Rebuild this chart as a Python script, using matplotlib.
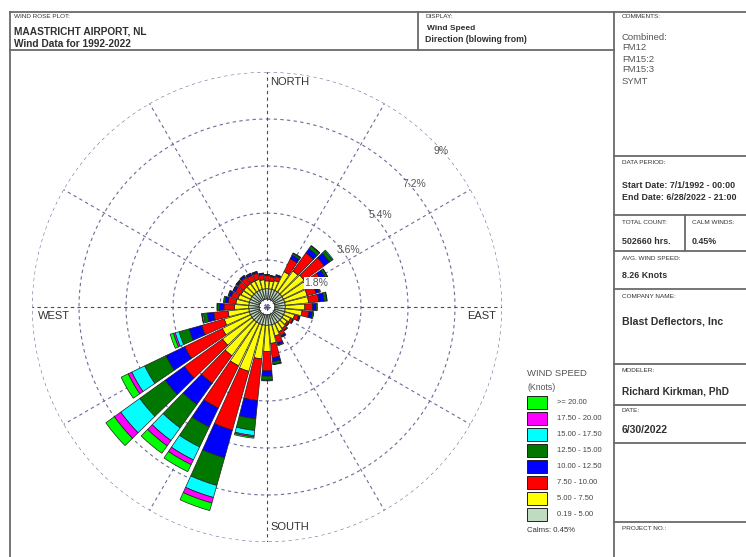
import numpy as np
import matplotlib
matplotlib.use('Agg')
import matplotlib.pyplot as plt
from matplotlib.patches import Rectangle

plt.rcParams['font.family'] = ['Liberation Sans', 'DejaVu Sans']

# wind direction (deg, blowing from)
directions = [10, 20, 30, 40, 50, 60, 70, 80, 90, 100, 110, 120,
              130, 140, 150, 160, 170, 180, 190, 200, 210, 220, 230, 240,
              250, 260, 270, 280, 290, 300, 310, 320, 330, 340, 350, 360]

# frequency (%) of each speed class per direction
spd_019_5 = [0.4, 0.4, 0.4, 0.4, 0.4, 0.4, 0.4, 0.4, 0.4, 0.4, 0.4, 0.4,
             0.4, 0.4, 0.4, 0.4, 0.4, 0.4, 0.4, 0.4, 0.4, 0.4, 0.4, 0.4,
             0.4, 0.4, 0.4, 0.4, 0.4, 0.4, 0.4, 0.4, 0.4, 0.4, 0.4, 0.4]
spd_5_75 = [0.30, 0.35, 0.80, 1.00, 1.05, 1.00, 0.90, 0.90, 0.75, 0.65, 0.40, 0.30,
            0.25, 0.30, 0.35, 0.45, 0.70, 1.00, 1.30, 1.86, 1.80, 1.60, 1.40, 1.20,
            1.00, 0.80, 0.55, 0.50, 0.45, 0.40, 0.40, 0.40, 0.40, 0.40, 0.35, 0.30]
spd_75_10 = [0.17, 0.17, 0.55, 0.85, 0.95, 0.60, 0.35, 0.40, 0.30, 0.27, 0.15, 0.10,
             0.08, 0.10, 0.17, 0.27, 0.55, 0.75, 1.60, 2.34, 1.80, 1.30, 1.80, 1.60,
             0.90, 0.55, 0.40, 0.30, 0.27, 0.25, 0.28, 0.30, 0.25, 0.25, 0.20, 0.20]
spd_10_125 = [0.03, 0.05, 0.15, 0.20, 0.25, 0.20, 0.13, 0.20, 0.13, 0.13, 0.05, 0.03,
              0.02, 0.03, 0.05, 0.08, 0.15, 0.20, 0.70, 1.10, 0.80, 1.00, 0.90, 0.80,
              0.50, 0.25, 0.18, 0.12, 0.10, 0.08, 0.07, 0.07, 0.07, 0.05, 0.05, 0.04]
spd_125_15 = [0.01, 0.02, 0.08, 0.13, 0.13, 0.08, 0.05, 0.10, 0.05, 0.05, 0.02, 0.0,
              0.0, 0.0, 0.02, 0.04, 0.10, 0.15, 0.45, 1.10, 0.85, 1.10, 1.20, 0.90,
              0.40, 0.15, 0.07, 0.06, 0.03, 0.02, 0.02, 0.03, 0.02, 0.02, 0.01, 0.01]
spd_15_175 = [0.0, 0.0, 0.02, 0.02, 0.04, 0.02, 0.0, 0.02, 0.0, 0.0, 0.0, 0.0,
              0.0, 0.0, 0.0, 0.0, 0.02, 0.03, 0.20, 0.48, 0.55, 0.60, 0.90, 0.55,
              0.15, 0.05, 0.02, 0.0, 0.0, 0.0, 0.0, 0.0, 0.0, 0.0, 0.0, 0.0]
spd_175_20 = [0.0, 0.0, 0.0, 0.0, 0.0, 0.0, 0.0, 0.0, 0.0, 0.0, 0.0, 0.0,
              0.0, 0.0, 0.0, 0.0, 0.0, 0.0, 0.05, 0.22, 0.20, 0.25, 0.30, 0.15,
              0.07, 0.0, 0.0, 0.0, 0.0, 0.0, 0.0, 0.0, 0.0, 0.0, 0.0, 0.0]
spd_20_up = [0.0, 0.0, 0.0, 0.0, 0.0, 0.0, 0.0, 0.0, 0.0, 0.0, 0.0, 0.0,
             0.0, 0.0, 0.0, 0.0, 0.0, 0.0, 0.05, 0.30, 0.30, 0.35, 0.40, 0.30,
             0.13, 0.02, 0.0, 0.0, 0.0, 0.0, 0.0, 0.0, 0.0, 0.0, 0.0, 0.0]

speed_labels = ['0.19 - 5.00', '5.00 - 7.50', '7.50 - 10.00', '10.00 - 12.50',
                '12.50 - 15.00', '15.00 - 17.50', '17.50 - 20.00', '>= 20.00']
speed_colors = ['#c0dcc0', '#ffff00', '#ff0000', '#0000ff',
                '#007800', '#00ffff', '#ff00ff', '#00ff00']
ring_values = [1.8, 3.6, 5.4, 7.2, 9.0]
ring_labels = ['1.8%', '3.6%', '5.4%', '7.2%', '9%']
calm_hole = 0.3  # % radius left blank in the middle

W, H = 746, 557
fig = plt.figure(figsize=(W / 100, H / 100), dpi=100)

# page frame (pixel coords)
bg = fig.add_axes([0, 0, 1, 1])
bg.set_xlim(0, W)
bg.set_ylim(H, 0)
bg.axis('off')

fc = '#6a6a6a'
lw = 1.3
bg.plot([10, 10], [12, H], color=fc, lw=lw)
bg.plot([10, W], [12, 12], color=fc, lw=lw)
bg.plot([10, 614], [50, 50], color=fc, lw=lw)
bg.plot([418, 418], [12, 50], color=fc, lw=lw)
bg.plot([614, 614], [12, H], color=fc, lw=lw)
for y in [156, 215, 251, 289, 364, 405, 443, 522]:
    bg.plot([614, W], [y, y], color=fc, lw=lw)
bg.plot([685, 685], [215, 251], color=fc, lw=lw)

small = dict(fontsize=4.6, color='#333333', va='center')
bold = dict(fontweight='bold', color='#303030', va='center')

bg.text(14, 17, 'WIND ROSE PLOT:', **small)
bg.text(14, 31, 'MAASTRICHT AIRPORT, NL', fontsize=7.3, **bold)
bg.text(14, 44, 'Wind Data for 1992-2022', fontsize=7.3, **bold)
bg.text(425, 17, 'DISPLAY:', **small)
bg.text(427, 29, 'Wind Speed', fontsize=6.0, **bold)
bg.text(425, 39, 'Direction (blowing from)', fontsize=6.3, **bold)

bg.text(622, 17, 'COMMENTS:', **small)
for i, s in enumerate(['Combined:', 'FM12', 'FM15:2', 'FM15:3', 'SYMT']):
    bg.text(622, 37 + 11 * i, s, fontsize=6.8, color='#555555', va='center')
bg.text(622, 162, 'DATA PERIOD:', **small)
bg.text(622, 185, 'Start Date: 7/1/1992 - 00:00', fontsize=6.4, **bold)
bg.text(622, 197, 'End Date: 6/28/2022 - 21:00', fontsize=6.4, **bold)
bg.text(622, 222, 'TOTAL COUNT:', **small)
bg.text(692, 222, 'CALM WINDS:', **small)
bg.text(622, 241, '502660 hrs.', fontsize=6.4, **bold)
bg.text(692, 241, '0.45%', fontsize=6.4, **bold)
bg.text(622, 258, 'AVG. WIND SPEED:', **small)
bg.text(622, 276, '8.26 Knots', fontsize=6.4, **bold)
bg.text(622, 297, 'COMPANY NAME:', **small)
bg.text(622, 322, 'Blast Deflectors, Inc', fontsize=7.6, **bold)
bg.text(622, 370, 'MODELER:', **small)
bg.text(622, 391, 'Richard Kirkman, PhD', fontsize=7.3, **bold)
bg.text(622, 411, 'DATE:', **small)
bg.text(622, 430, '6/30/2022', fontsize=7.5, **bold)
bg.text(622, 528, 'PROJECT NO.:', **small)

# legend
bg.text(527, 373, 'WIND SPEED', fontsize=6.8, color='#555555', va='center')
bg.text(527, 388, '(Knots)', fontsize=6.3, color='#555555', va='center')
for k in range(len(speed_labels)):
    j = len(speed_labels) - 1 - k
    y = 402 + 16 * k
    bg.add_patch(Rectangle((527, y - 6.5), 20, 13, facecolor=speed_colors[j],
                           edgecolor='#202020', lw=0.7))
    bg.text(557, y, speed_labels[j], fontsize=5.5, color='#444444', va='center')
bg.text(527, 530, 'Calms: 0.45%', fontsize=5.6, color='#333333', va='center')

# wind rose
cx, cy, R = 267, 307, 235
ax = fig.add_axes([(cx - R) / W, (H - cy - R) / H, 2 * R / W, 2 * R / H],
                  projection='polar')
ax.patch.set_alpha(0)
ax.set_theta_zero_location('N')
ax.set_theta_direction(-1)
ax.set_ylim(0, 9.0)
ax.grid(False)
ax.set_xticks([])
ax.set_yticks([])
ax.spines['polar'].set_visible(False)

gc = '#6c6c98'
t = np.linspace(0, 2 * np.pi, 500)
for r in ring_values:
    ax.plot(t, np.full_like(t, r), color=gc, lw=0.8, ls=(0, (3, 3)), zorder=1)
for a in range(0, 360, 30):
    c = '#45457a' if a % 90 == 0 else gc
    ax.plot([np.radians(a)] * 2, [0, 9.0], color=c, lw=0.8, ls=(0, (3, 3)), zorder=1)

theta = np.radians(directions)
width = np.radians(8.6)
classes = [spd_019_5, spd_5_75, spd_75_10, spd_10_125,
           spd_125_15, spd_15_175, spd_175_20, spd_20_up]
base = np.full(len(directions), calm_hole)
for vals, col in zip(classes, speed_colors):
    vals = np.array(vals)
    m = vals > 0
    ax.bar(theta[m], vals[m], width=width, bottom=base[m], color=col,
           edgecolor='#202020', linewidth=0.5, zorder=3)
    base = base + vals

# ring labels
label_pos = [(64, 2.1), (55, 3.83), (51, 5.6), (50, 7.34), (48, 8.95)]
for (ang, r), s in zip(label_pos, ring_labels):
    kw = {}
    if s == '1.8%':
        kw = dict(bbox=dict(facecolor='white', edgecolor='none', pad=0.5))
    ax.text(np.radians(ang), r, s, fontsize=7.5, color='#555555',
            ha='center', va='center', zorder=5, **kw)

# compass labels
bg.text(270, 82, 'NORTH', fontsize=8, color='#333333', va='center', zorder=6)
bg.text(270, 527, 'SOUTH', fontsize=8, color='#333333', va='center', zorder=6)
bg.text(38, 316, 'WEST', fontsize=8, color='#333333', va='center', zorder=6)
bg.text(467, 316, 'EAST', fontsize=8, color='#333333', va='center', zorder=6)

fig.savefig('out.png', dpi=100)
